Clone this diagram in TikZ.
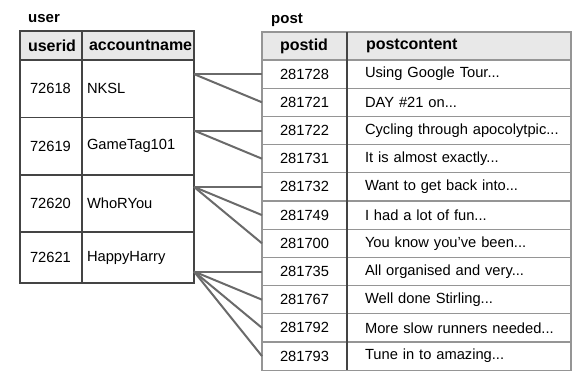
\documentclass[tikz,border=0pt]{standalone}
\usepackage{fontspec}
\setmainfont{Liberation Sans}
\usepackage{xcolor}
\usetikzlibrary{positioning}
\definecolor{gridline}{HTML}{959595}
\definecolor{darkline}{HTML}{444444}
\definecolor{headbg}{HTML}{E8E8E8}
\definecolor{linkcol}{HTML}{6A6A6A}
\hfuzz=20pt

\tikzset{
  cell/.style={draw=gridline, line width=1.3pt, outer sep=0pt, inner ysep=0pt,
    anchor=north west, align=left, minimum height=28.2pt,
    font=\fontsize{14.7}{16}\selectfont},
  ucell/.style={cell, draw=darkline},
  head/.style={fill=headbg, font=\fontsize{16}{18}\selectfont\bfseries},
  uidw/.style={inner xsep=10pt, text width=42pt},
  unamew/.style={inner xsep=5pt, text width=102pt},
  pidw/.style={inner xsep=18pt, text width=49pt},
  ptxtw/.style={inner xsep=18pt, text width=188pt},
  tabletitle/.style={anchor=base west, inner sep=0pt, font=\fontsize{15}{17}\selectfont\bfseries},
  link/.style={draw=linkcol, line width=2pt}
}

\begin{document}
\begin{tikzpicture}[x=1pt, y=-1pt]
      \useasboundingbox (0,0) rectangle (588,380);

      % user table
      \node[tabletitle] (usertitle) at (28,22) {user};
      \node[ucell, head, inner xsep=8pt, text width=46pt, minimum height=29pt] (uid0) at (20,31) {userid};
      \node[ucell, head, inner xsep=7pt, text width=98pt, minimum height=29pt, right=0pt of uid0] (un0) {accountname};
      \node[ucell, uidw, minimum height=57.5pt, below=0pt of uid0] (uid1) {72618};
      \node[ucell, unamew, minimum height=57.5pt, right=0pt of uid1] (un1) {NKSL};
      \node[ucell, uidw, minimum height=57.5pt, below=0pt of uid1] (uid2) {72619};
      \node[ucell, unamew, minimum height=57.5pt, right=0pt of uid2] (un2) {GameTag101};
      \node[ucell, uidw, minimum height=57pt, below=0pt of uid2] (uid3) {72620};
      \node[ucell, unamew, minimum height=57pt, right=0pt of uid3] (un3) {WhoRYou};
      \node[ucell, uidw, minimum height=51pt, below=0pt of uid3] (uid4) {72621};
      \node[ucell, unamew, minimum height=51pt, right=0pt of uid4] (un4) {HappyHarry};

      % post table
      \node[tabletitle] (posttitle) at (271,23) {post};
      \node[cell, head, pidw, minimum height=28pt] (pid0) at (262,32) {postid};
      \node[cell, head, inner xsep=19pt, text width=186pt, minimum height=28pt, right=0pt of pid0] (pc0) {postcontent};
      \node[cell, pidw, below=0pt of pid0] (pid1) {281728};
      \node[cell, ptxtw, right=0pt of pid1] (pc1) {Using Google Tour...};
      \node[cell, pidw, below=0pt of pid1] (pid2) {281721};
      \node[cell, ptxtw, right=0pt of pid2] (pc2) {DAY \#21 on...};
      \node[cell, pidw, below=0pt of pid2] (pid3) {281722};
      \node[cell, ptxtw, right=0pt of pid3] (pc3) {\mbox{Cycling through apocolytpic...}};
      \node[cell, pidw, below=0pt of pid3] (pid4) {281731};
      \node[cell, ptxtw, right=0pt of pid4] (pc4) {It is almost exactly...};
      \node[cell, pidw, below=0pt of pid4] (pid5) {281732};
      \node[cell, ptxtw, right=0pt of pid5] (pc5) {Want to get back into...};
      \node[cell, pidw, below=0pt of pid5] (pid6) {281749};
      \node[cell, ptxtw, right=0pt of pid6] (pc6) {I had a lot of fun...};
      \node[cell, pidw, below=0pt of pid6] (pid7) {281700};
      \node[cell, ptxtw, right=0pt of pid7] (pc7) {You know you’ve been...};
      \node[cell, pidw, below=0pt of pid7] (pid8) {281735};
      \node[cell, ptxtw, right=0pt of pid8] (pc8) {All organised and very...};
      \node[cell, pidw, below=0pt of pid8] (pid9) {281767};
      \node[cell, ptxtw, right=0pt of pid9] (pc9) {Well done Stirling...};
      \node[cell, pidw, below=0pt of pid9] (pid10) {281792};
      \node[cell, ptxtw, right=0pt of pid10] (pc10) {\mbox{More slow runners needed...}};
      \node[cell, pidw, below=0pt of pid10] (pid11) {281793};
      \node[cell, ptxtw, right=0pt of pid11] (pc11) {Tune in to amazing...};
      \draw[darkline, line width=1.3pt] (pid0.north east) -- (pid11.south east);

      % one user, many posts
      \draw[link] (un1.east |- pid1.west) -- (pid1.west);
      \draw[link] (un1.east |- pid1.west) -- (pid2.west);
      \draw[link] (un2.east |- pid3.west) -- (pid3.west);
      \draw[link] (un2.east |- pid3.west) -- (pid4.west);
      \draw[link] (un3.east |- pid5.west) -- (pid5.west);
      \draw[link] (un3.east |- pid5.west) -- (pid6.west);
      \draw[link] (un3.east |- pid5.west) -- (pid7.west);
      \draw[link] (un4.east |- pid8.west) -- (pid8.west);
      \draw[link] (un4.east |- pid8.west) -- (pid9.west);
      \draw[link] (un4.east |- pid8.west) -- (pid10.west);
      \draw[link] (un4.east |- pid8.west) -- (pid11.west);
    \end{tikzpicture}
\end{document}
